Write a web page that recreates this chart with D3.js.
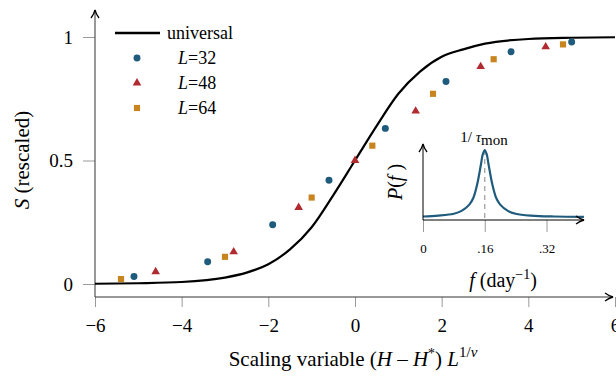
<!DOCTYPE html>
<html>
<head>
<meta charset="utf-8">
<script src="https://cdn.jsdelivr.net/npm/d3@7"></script>
<style>
  body { margin: 0; background: #fff; }
  svg { display: block; }
</style>
</head>
<body>
<div id="chart"></div>
<script>
"use strict";

// universal scaling curve
var universalX = [-6, -5, -4, -3, -2.5, -2, -1.5, -1, -0.5, 0, 0.5, 1, 1.5, 2, 2.5, 3, 4, 5, 6];
var universalS = [0.001, 0.003, 0.008, 0.026, 0.046, 0.08, 0.14, 0.23, 0.36, 0.5, 0.64, 0.77, 0.86, 0.92, 0.95, 0.973, 0.992, 0.997, 0.999];

// finite size data
var L32x = [-5.1, -3.4, -1.9, -0.6, 0.7, 2.1, 3.6, 5.0];
var L32s = [0.03, 0.09, 0.24, 0.42, 0.63, 0.82, 0.94, 0.98];
var L48x = [-4.6, -2.8, -1.3, 0, 1.4, 2.9, 4.4];
var L48s = [0.05, 0.13, 0.31, 0.50, 0.70, 0.88, 0.96];
var L64x = [-5.4, -3.0, -1.0, 0.4, 1.8, 3.2, 4.8];
var L64s = [0.02, 0.11, 0.35, 0.56, 0.77, 0.91, 0.97];

var seriesNames = ["32", "48", "64"];

// tick labels
var xTicks = [-6, -4, -2, 0, 2, 4, 6];
var yTicks = [0, 0.5, 1];
var yTickLabels = ["0", "0.5", "1"];

// inset: power spectrum
var specF = [0, 0.04, 0.08, 0.10, 0.12, 0.13, 0.14, 0.15, 0.155, 0.16, 0.165, 0.17, 0.18, 0.19, 0.20, 0.22, 0.24, 0.28, 0.34, 0.417];
var specP = [0.05, 0.063, 0.09, 0.13, 0.22, 0.31, 0.50, 0.79, 0.94, 1.0, 0.94, 0.79, 0.50, 0.31, 0.22, 0.13, 0.09, 0.063, 0.05, 0.045];
var fPeak = 0.16;
var fTicks = [0, 0.16, 0.32];
var fTickLabels = ["0", ".16", ".32"];

//Visualization parameters
var svgWidth = 616;
var svgHeight = 377;
var SERIF = "Liberation Serif";
var BLUE = "#1f5b7c";
var RED = "#b02a2f";
var ORANGE = "#c7841f";
var TICK = "#9a9a9a";
var AXIS = "#333";

var svg = d3.select("#chart").append("svg")
    .attr("width", svgWidth)
    .attr("height", svgHeight)
    .attr("font-family", SERIF);

var defs = svg.append("defs");
defs.append("marker")
    .attr("id", "arrow")
    .attr("viewBox", "0 0 10 10")
    .attr("refX", 9).attr("refY", 5)
    .attr("markerWidth", 10).attr("markerHeight", 10)
    .attr("markerUnits", "userSpaceOnUse")
    .attr("orient", "auto")
  .append("path")
    .attr("d", "M1,1 Q5,4 9,5 Q5,6 1,9")
    .attr("fill", "none")
    .attr("stroke", "#000")
    .attr("stroke-width", 1.3);

// main scales
var x = d3.scaleLinear().domain([-6, 6]).range([95, 615]);
var y = d3.scaleLinear().domain([0, 1]).range([284, 37]);
var axisY0 = 297;

// x axis
var gx = svg.append("g")
    .attr("transform", "translate(0," + axisY0 + ")")
    .call(d3.axisBottom(x).tickValues(xTicks).tickSize(10).tickPadding(12).tickSizeOuter(0));
gx.attr("font-family", SERIF);
gx.select(".domain").remove();
gx.selectAll(".tick line").attr("stroke", TICK);
gx.selectAll(".tick text").attr("font-size", 19).attr("fill", "#000");

// y axis
var gy = svg.append("g")
    .attr("transform", "translate(95,0)")
    .call(d3.axisLeft(y).tickValues(yTicks).tickSize(12).tickPadding(10)
        .tickFormat(function(d, i){ return yTickLabels[i]; }));
gy.attr("font-family", SERIF);
gy.select(".domain").remove();
gy.selectAll(".tick line").attr("stroke", TICK);
gy.selectAll(".tick text").attr("font-size", 19).attr("fill", "#000");

svg.append("line")
    .attr("x1", 95).attr("y1", axisY0).attr("x2", 613).attr("y2", axisY0)
    .attr("stroke", AXIS).attr("stroke-width", 1)
    .attr("marker-end", "url(#arrow)");
svg.append("line")
    .attr("x1", 95).attr("y1", axisY0).attr("x2", 95).attr("y2", 10)
    .attr("stroke", AXIS).attr("stroke-width", 1)
    .attr("marker-end", "url(#arrow)");

// axis titles
var xt = svg.append("text")
    .attr("x", 353).attr("y", 366)
    .attr("text-anchor", "middle")
    .attr("font-size", 21);
xt.append("tspan").text("Scaling variable (");
xt.append("tspan").attr("font-style", "italic").text("H");
xt.append("tspan").text(" \u2013 ");
xt.append("tspan").attr("font-style", "italic").text("H");
xt.append("tspan").attr("font-size", 14).attr("dy", -8).text("*");
xt.append("tspan").attr("dy", 8).text(") ");
xt.append("tspan").attr("font-style", "italic").text("L");
xt.append("tspan").attr("font-size", 15).attr("dy", -9).text("1/");
xt.append("tspan").attr("font-size", 15).attr("font-style", "italic").text("\u03bd");

var yt = svg.append("text")
    .attr("transform", "translate(29,160) rotate(-90)")
    .attr("text-anchor", "middle")
    .attr("font-size", 21);
yt.append("tspan").attr("font-style", "italic").text("S");
yt.append("tspan").text(" (rescaled)");

// universal curve
var universal = universalX.map(function(v, i){ return [v, universalS[i]]; });
var line = d3.line()
    .x(function(d){ return x(d[0]); })
    .y(function(d){ return y(d[1]); })
    .curve(d3.curveMonotoneX);
svg.append("path")
    .datum(universal)
    .attr("d", line)
    .attr("fill", "none")
    .attr("stroke", "#000")
    .attr("stroke-width", 2.2);

// data markers
var series = [
    { name: seriesNames[0], xs: L32x, ss: L32s, color: BLUE, shape: d3.symbolCircle, size: 38 },
    { name: seriesNames[1], xs: L48x, ss: L48s, color: RED, shape: d3.symbolTriangle, size: 32 },
    { name: seriesNames[2], xs: L64x, ss: L64s, color: ORANGE, shape: d3.symbolSquare, size: 38 }
];

series.forEach(function(s){
    var pts = s.xs.map(function(v, i){ return [v, s.ss[i]]; });
    svg.append("g").selectAll("path")
        .data(pts)
        .enter().append("path")
        .attr("transform", function(d){ return "translate(" + x(d[0]) + "," + y(d[1]) + ")"; })
        .attr("d", d3.symbol().type(s.shape).size(s.size))
        .attr("fill", s.color);
});

// legend
var lg = svg.append("g");
lg.append("line")
    .attr("x1", 115).attr("x2", 160).attr("y1", 33).attr("y2", 33)
    .attr("stroke", "#000").attr("stroke-width", 2.4);
lg.append("text")
    .attr("x", 167).attr("y", 39)
    .attr("font-size", 18)
    .text("universal");
series.forEach(function(s, i){
    var ly = 58 + i * 25;
    lg.append("path")
        .attr("transform", "translate(137," + ly + ")")
        .attr("d", d3.symbol().type(s.shape).size(s.size))
        .attr("fill", s.color);
    var t = lg.append("text")
        .attr("x", 178).attr("y", ly + 6)
        .attr("font-size", 18);
    t.append("tspan").attr("font-style", "italic").text("L");
    t.append("tspan").text("=" + s.name);
});

// inset
var fx = d3.scaleLinear().domain([0, 0.32]).range([423, 546.5]);
var py = d3.scaleLinear().domain([0, 1]).range([220, 150]);
var inset = svg.append("g");

var gfx = inset.append("g")
    .attr("transform", "translate(0,220)")
    .call(d3.axisBottom(fx).tickValues(fTicks).tickSize(12).tickPadding(12)
        .tickFormat(function(d, i){ return fTickLabels[i]; }));
gfx.attr("font-family", SERIF);
gfx.select(".domain").remove();
gfx.selectAll(".tick line").attr("stroke", TICK);
gfx.selectAll(".tick text").attr("font-size", 13).attr("fill", "#000");

inset.append("line")
    .attr("x1", fx(fPeak)).attr("x2", fx(fPeak))
    .attr("y1", py(1)).attr("y2", 220)
    .attr("stroke", TICK).attr("stroke-width", 1.2)
    .attr("stroke-dasharray", "5,4");

var spec = specF.map(function(f, i){ return [f, specP[i]]; });
inset.append("path")
    .datum(spec)
    .attr("d", d3.line()
        .x(function(d){ return fx(d[0]); })
        .y(function(d){ return py(d[1]); })
        .curve(d3.curveCatmullRom.alpha(0.5)))
    .attr("fill", "none")
    .attr("stroke", BLUE)
    .attr("stroke-width", 2.2);

inset.append("line")
    .attr("x1", 423).attr("y1", 220).attr("x2", 584).attr("y2", 220)
    .attr("stroke", "#000").attr("stroke-width", 1)
    .attr("marker-end", "url(#arrow)");
inset.append("line")
    .attr("x1", 423).attr("y1", 220).attr("x2", 423).attr("y2", 144)
    .attr("stroke", "#000").attr("stroke-width", 1)
    .attr("marker-end", "url(#arrow)");

var pt = inset.append("text")
    .attr("transform", "translate(402,182) rotate(-90)")
    .attr("text-anchor", "middle")
    .attr("font-size", 20);
pt.append("tspan").attr("font-style", "italic").text("P");
pt.append("tspan").text("(");
pt.append("tspan").attr("font-style", "italic").text("f");
pt.append("tspan").text(" )");

var ft = inset.append("text")
    .attr("x", 503).attr("y", 287)
    .attr("text-anchor", "middle")
    .attr("font-size", 20);
ft.append("tspan").attr("font-style", "italic").text("f");
ft.append("tspan").text("  (day");
ft.append("tspan").attr("font-size", 14).attr("dy", -8).text("\u22121");
ft.append("tspan").attr("dy", 8).text(")");

var tt = inset.append("text")
    .attr("x", 484).attr("y", 142)
    .attr("text-anchor", "middle")
    .attr("font-size", 15);
tt.append("tspan").text("1/ ");
tt.append("tspan").attr("font-style", "italic").text("\u03c4");
tt.append("tspan").attr("dy", 3).text("mon");
</script>
</body>
</html>
